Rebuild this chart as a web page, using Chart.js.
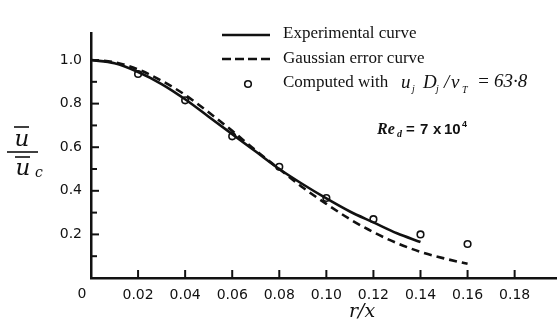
<!DOCTYPE html>
<html><head><meta charset="utf-8">
<style>html,body{margin:0;padding:0;background:#fff}canvas{display:block}</style>
<script src="https://cdn.jsdelivr.net/npm/chart.js@4/dist/chart.umd.min.js"></script>
</head><body>
<canvas id="c" width="557" height="320"></canvas>
<script>
// ---- data ----
const expX   = [0, 0.01, 0.02, 0.03, 0.04, 0.05, 0.06, 0.07, 0.08, 0.09, 0.10, 0.11, 0.12, 0.13, 0.14];
const expY   = [1.0, 0.985, 0.945, 0.89, 0.82, 0.74, 0.66, 0.58, 0.50, 0.43, 0.365, 0.305, 0.255, 0.205, 0.165];
const gaussX = [0, 0.01, 0.02, 0.03, 0.04, 0.05, 0.06, 0.07, 0.08, 0.09, 0.10, 0.11, 0.12, 0.13, 0.14, 0.15, 0.16];
const gaussY = [1.0, 0.99, 0.957, 0.905, 0.84, 0.76, 0.675, 0.585, 0.50, 0.415, 0.34, 0.27, 0.21, 0.16, 0.12, 0.09, 0.065];
const compX  = [0.02, 0.04, 0.06, 0.08, 0.10, 0.12, 0.14, 0.16];
const compY  = [0.936, 0.815, 0.65, 0.51, 0.367, 0.27, 0.20, 0.156];
const xTickValues = [0, 0.02, 0.04, 0.06, 0.08, 0.10, 0.12, 0.14, 0.16, 0.18];
const xTickLabels = ['0', '0.02', '0.04', '0.06', '0.08', '0.10', '0.12', '0.14', '0.16', '0.18'];
const yMajorValues = [0.2, 0.4, 0.6, 0.8, 1.0];
const yMajorLabels = ['0.2', '0.4', '0.6', '0.8', '1.0'];
const yMinorValues = [0.1, 0.3, 0.5, 0.7, 0.9];
const seriesNames = ['Experimental curve', 'Gaussian error curve', 'Computed with'];

const INK = '#111';
const pts = (xs, ys) => xs.map((x, i) => ({x, y: ys[i]}));
const zeroPad = s => { s.paddingLeft = 0; s.paddingRight = 0; s.paddingTop = 0; s.paddingBottom = 0; };

const decor = {
  id: 'decor',
  afterDraw(chart) {
    const ctx = chart.ctx, xs = chart.scales.x, ys = chart.scales.y, ca = chart.chartArea;
    ctx.save();
    ctx.strokeStyle = INK; ctx.fillStyle = INK; ctx.lineWidth = 2;
    // inward ticks
    xTickValues.forEach(v => { if (v === 0) return; const p = xs.getPixelForValue(v);
      ctx.beginPath(); ctx.moveTo(p, ca.bottom); ctx.lineTo(p, ca.bottom - 8); ctx.stroke(); });
    yMajorValues.forEach(v => { const p = ys.getPixelForValue(v);
      ctx.beginPath(); ctx.moveTo(ca.left, p); ctx.lineTo(ca.left + 8, p); ctx.stroke(); });
    yMinorValues.forEach(v => { const p = ys.getPixelForValue(v);
      ctx.beginPath(); ctx.moveTo(ca.left, p); ctx.lineTo(ca.left + 6, p); ctx.stroke(); });
    // origin label
    ctx.font = '14px "DejaVu Sans"'; ctx.textAlign = 'center'; ctx.textBaseline = 'top';
    ctx.fillText(xTickLabels[0], ca.left - 9, ca.bottom + 9);

    // legend
    const ds = chart.data.datasets;
    ctx.lineWidth = 2.5;
    ctx.beginPath(); ctx.setLineDash([]); ctx.moveTo(222, 35); ctx.lineTo(270, 35); ctx.stroke();
    ctx.beginPath(); ctx.setLineDash([9, 4]); ctx.moveTo(222, 59); ctx.lineTo(270, 59); ctx.stroke();
    ctx.setLineDash([]);
    ctx.lineWidth = 1.6; ctx.fillStyle = '#fff';
    ctx.beginPath(); ctx.arc(248, 84, 3.3, 0, Math.PI * 2); ctx.fill(); ctx.stroke();
    ctx.fillStyle = INK;
    ctx.font = '17px "Liberation Serif"'; ctx.textAlign = 'left'; ctx.textBaseline = 'middle';
    ctx.fillText(ds[0].label, 283, 34);
    ctx.fillText(ds[1].label, 283, 59);
    ctx.fillText(ds[2].label, 283, 83);
    // handwritten parameter
    const main = 'italic 19px "Liberation Serif"', sub = 'italic 10px "Liberation Serif"';
    const at = (t, f, x, y) => { ctx.font = f; ctx.fillText(t, x, y); };
    at('u', main, 401, 83); at('j', sub, 412, 89);
    at('D', main, 423, 83); at('j', sub, 436, 89);
    at('/', main, 444, 83); at('ν', main, 451, 83); at('T', sub, 462, 90);
    at('=', main, 477, 82); at('63·8', main, 494, 82);
    // Re_d
    const b = 'bold 15px "Liberation Sans"';
    at('Re', 'bold italic 16px "Liberation Serif"', 377, 130);
    at('d', 'bold italic 10px "Liberation Serif"', 397, 134);
    at('=', b, 406, 130); at('7', b, 420, 130); at('x', b, 433, 130); at('10', b, 444, 130);
    at('4', 'bold 9px "Liberation Sans"', 462, 125);

    // y axis title  u / u_c  with overbars
    ctx.lineWidth = 1.6;
    ctx.font = 'italic 23px "DejaVu Serif"'; ctx.textAlign = 'center'; ctx.textBaseline = 'alphabetic';
    ctx.fillText('u', 22, 146);
    ctx.beginPath(); ctx.moveTo(14, 127); ctx.lineTo(29, 127); ctx.stroke();
    ctx.beginPath(); ctx.moveTo(7, 152); ctx.lineTo(38, 152); ctx.stroke();
    ctx.beginPath(); ctx.moveTo(15, 157); ctx.lineTo(30, 157); ctx.stroke();
    ctx.fillText('u', 23, 175);
    ctx.font = 'italic 14px "DejaVu Serif"';
    ctx.fillText('c', 39, 177);
    // x axis title
    ctx.font = 'italic 19px "DejaVu Serif"';
    ctx.fillText('r/x', 362, 317);
    ctx.restore();
  }
};

new Chart(document.getElementById('c'), {
  type: 'scatter',
  data: {
    datasets: [
      { label: seriesNames[0], data: pts(expX, expY), showLine: true, borderColor: INK, borderWidth: 2.6,
        pointRadius: 0, cubicInterpolationMode: 'monotone', fill: false },
      { label: seriesNames[1], data: pts(gaussX, gaussY), showLine: true, borderColor: INK, borderWidth: 2.6,
        borderDash: [8, 5], pointRadius: 0, cubicInterpolationMode: 'monotone', fill: false },
      { label: seriesNames[2], data: pts(compX, compY), showLine: false, pointRadius: 3.3,
        pointBorderWidth: 1.6, pointBorderColor: INK, pointBackgroundColor: '#fff' }
    ]
  },
  options: {
    responsive: false, animation: false, devicePixelRatio: 1,
    layout: { autoPadding: false, padding: { top: 33, right: 0, left: 0, bottom: 0 } },
    plugins: { legend: { display: false }, tooltip: { enabled: false } },
    scales: {
      x: {
        type: 'linear', min: 0, max: 0.198,
        afterBuildTicks: s => { s.ticks = xTickValues.map(v => ({value: v})); },
        afterFit: s => { s.height = 42; zeroPad(s); },
        grid: { display: true, drawOnChartArea: false, drawTicks: false },
        border: { display: true, color: INK, width: 2.5 },
        ticks: { padding: 9, color: INK, font: { family: 'DejaVu Sans', size: 14 }, maxRotation: 0,
          callback: (v) => { const i = xTickValues.findIndex(t => Math.abs(t - v) < 1e-9); return i > 0 ? xTickLabels[i] : ''; } }
      },
      y: {
        min: 0, max: 1.124,
        afterBuildTicks: s => { s.ticks = yMajorValues.map(v => ({value: v})); },
        afterFit: s => { s.width = 91; zeroPad(s); },
        grid: { display: true, drawOnChartArea: false, drawTicks: false },
        border: { display: true, color: INK, width: 2.5 },
        ticks: { padding: 9, color: INK, font: { family: 'DejaVu Sans', size: 14 },
          callback: (v) => { const i = yMajorValues.findIndex(t => Math.abs(t - v) < 1e-9); return i >= 0 ? yMajorLabels[i] : ''; } }
      }
    }
  },
  plugins: [decor]
});
</script>
</body></html>
